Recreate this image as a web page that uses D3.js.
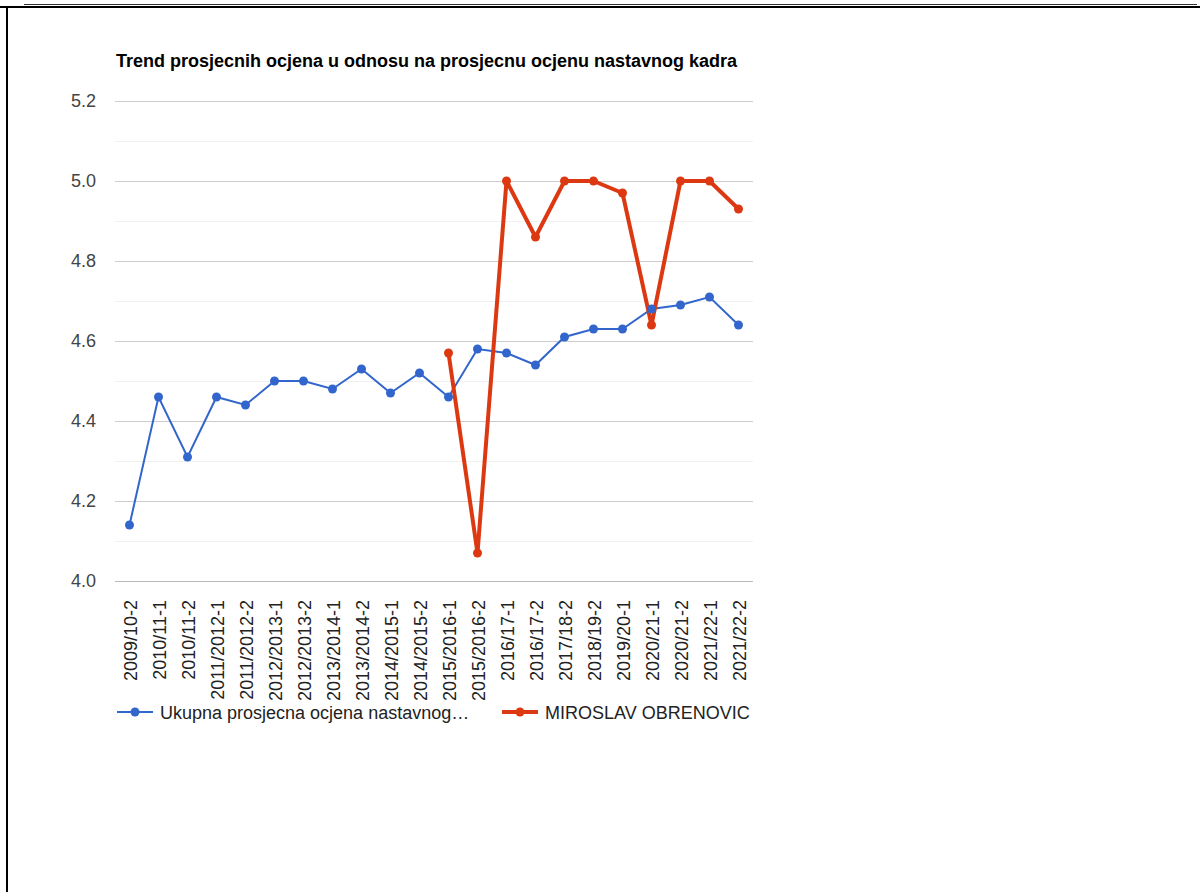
<!DOCTYPE html>
<html>
<head>
<meta charset="utf-8">
<script src="https://cdn.jsdelivr.net/npm/d3@7"></script>
<style>
html,body{margin:0;padding:0;background:#fff;}
svg{display:block;font-family:Arial,"Liberation Sans",sans-serif;}
</style>
</head>
<body>
<svg id="c" width="1200" height="892"></svg>
<script>
const categories = ["2009/10-2","2010/11-1","2010/11-2","2011/2012-1","2011/2012-2","2012/2013-1","2012/2013-2","2013/2014-1","2013/2014-2","2014/2015-1","2014/2015-2","2015/2016-1","2015/2016-2","2016/17-1","2016/17-2","2017/18-2","2018/19-2","2019/20-1","2020/21-1","2020/21-2","2021/22-1","2021/22-2"];
const ukupna = [4.14,4.46,4.31,4.46,4.44,4.50,4.50,4.48,4.53,4.47,4.52,4.46,4.58,4.57,4.54,4.61,4.63,4.63,4.68,4.69,4.71,4.64];
const miroslav = [null,null,null,null,null,null,null,null,null,null,null,4.57,4.07,5.00,4.86,5.00,5.00,4.97,4.64,5.00,5.00,4.93];
const yTicks = [4.0,4.2,4.4,4.6,4.8,5.0,5.2];
const yMinorTicks = [4.1,4.3,4.5,4.7,4.9,5.1];
const titleText = "Trend prosjecnih ocjena u odnosu na prosjecnu ocjenu nastavnog kadra";
const seriesNames = ["Ukupna prosjecna ocjena nastavnog\u2026","MIROSLAV OBRENOVIC"];

(function(){
const svg = d3.select("#c");
// page borders
svg.append("line").attr("x1",24).attr("x2",1197).attr("y1",4.5).attr("y2",4.5).attr("stroke","#333").attr("stroke-width",1);
svg.append("line").attr("x1",0).attr("x2",1200).attr("y1",7).attr("y2",7).attr("stroke","#000").attr("stroke-width",2);
svg.append("line").attr("x1",7).attr("x2",7).attr("y1",6).attr("y2",892).attr("stroke","#000").attr("stroke-width",2);

const pl=115, pr=753, pt=101, pb=581;
const x = d3.scalePoint().domain(categories).range([pl,pr]).padding(0.5);
const y = d3.scaleLinear().domain([4.0,5.2]).range([pb,pt]);

// title
svg.append("text").attr("x",116).attr("y",67).attr("font-size",18).attr("font-weight","bold").attr("fill","#000").text(titleText);

// minor grid
svg.append("g").selectAll("line").data(yMinorTicks).join("line")
  .attr("x1",pl).attr("x2",pr).attr("y1",d=>Math.round(y(d))+0.5).attr("y2",d=>Math.round(y(d))+0.5)
  .attr("stroke","#f0f0f0").attr("stroke-width",1);
// major grid
const yAxis = d3.axisLeft(y).tickValues(yTicks).tickFormat(d3.format(".1f")).tickSize(-(pr-pl)).tickPadding(19);
const ga = svg.append("g").attr("transform",`translate(${pl},0)`).call(yAxis);
ga.select(".domain").remove();
ga.selectAll(".tick line").attr("stroke","#cccccc");
ga.selectAll(".tick text").attr("fill","#444").attr("font-size",18).attr("font-family","Arial,'Liberation Sans',sans-serif");
ga.selectAll(".tick").filter(d=>d===4.0).select("line").attr("stroke","#bbbbbb");

// x axis labels
const xAxis = d3.axisBottom(x).tickSize(0).tickPadding(0);
const gx = svg.append("g").attr("transform",`translate(0,${pb})`).call(xAxis);
gx.select(".domain").remove();
gx.selectAll(".tick text").attr("fill","#222").attr("font-size",18).attr("font-family","Arial,'Liberation Sans',sans-serif")
  .attr("text-anchor","end").attr("dy",null).attr("y",0)
  .attr("transform","translate(7,19) rotate(-90)");

// lines
const blue="#3366cc", red="#dc3912";
const line = d3.line().defined(d=>d.v!=null).x(d=>x(d.c)).y(d=>y(d.v));
const bData = categories.map((c,i)=>({c,v:ukupna[i]}));
const rData = categories.map((c,i)=>({c,v:miroslav[i]}));
svg.append("path").datum(bData).attr("d",line).attr("fill","none").attr("stroke",blue).attr("stroke-width",2);
svg.append("path").datum(rData).attr("d",line).attr("fill","none").attr("stroke",red).attr("stroke-width",4).attr("stroke-linejoin","round");
svg.append("g").selectAll("circle").data(bData).join("circle").attr("cx",d=>x(d.c)).attr("cy",d=>y(d.v)).attr("r",4.5).attr("fill",blue);
svg.append("g").selectAll("circle").data(rData.filter(d=>d.v!=null)).join("circle").attr("cx",d=>x(d.c)).attr("cy",d=>y(d.v)).attr("r",4.5).attr("fill",red);

// legend
const ly=712;
const leg = [{x:117,c:blue,w:2,n:seriesNames[0]},{x:502,c:red,w:4,n:seriesNames[1]}];
leg.forEach(l=>{
  svg.append("line").attr("x1",l.x).attr("x2",l.x+36).attr("y1",ly).attr("y2",ly).attr("stroke",l.c).attr("stroke-width",l.w);
  svg.append("circle").attr("cx",l.x+18).attr("cy",ly).attr("r",4.5).attr("fill",l.c);
  svg.append("text").attr("x",l.x+43).attr("y",ly+6.5).attr("font-size",18).attr("fill","#222").text(l.n);
});
})();
</script>
</body>
</html>
